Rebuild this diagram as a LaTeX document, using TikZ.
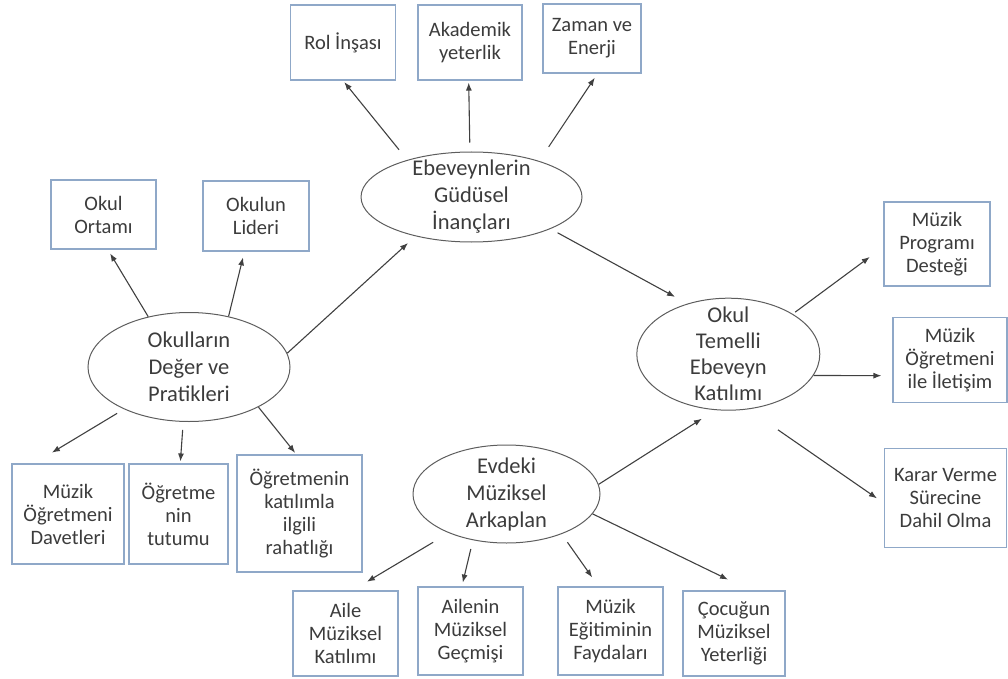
\documentclass[tikz,border=0pt]{standalone}
\usepackage{fontspec}
\setmainfont{Carlito}
\usepackage{tikz}
\usetikzlibrary{shapes.geometric,arrows.meta}
\definecolor{boxblue}{HTML}{8FA8C8}
\definecolor{txtgray}{HTML}{3C3C3C}
\definecolor{linegray}{HTML}{404040}

\begin{document}
\begin{tikzpicture}[x=1pt,y=-1pt,
    box/.style={draw=boxblue,line width=1.1pt,fill=white,text=txtgray,align=center,inner sep=0pt,font=\fontsize{20.5}{23}\selectfont},
    oval/.style={draw=linegray!85,ellipse,line width=1pt,inner sep=0pt},
    ovaltxt/.style={text=txtgray,align=center,inner sep=0pt,font=\fontsize{22.5}{27}\selectfont},
    arr/.style={draw=linegray,line width=1.1pt,-{Latex[length=8pt,width=6pt]}}]
    \useasboundingbox (0,0) rectangle (1008,679);

    \node[oval,minimum width=221pt,minimum height=90pt] (ebev) at (471.5,197) {};
    \node[ovaltxt] (ebevtxt) at (ebev) {Ebeveynlerin\\Güdüsel\\İnançları};
    \node[oval,minimum width=202pt,minimum height=109pt] (okul) at (189,367) {};
    \node[ovaltxt] (okultxt) at (okul) {Okulların\\Değer ve\\Pratikleri};
    \node[oval,minimum width=187pt,minimum height=98pt] (evdeki) at (506.5,494) {};
    \node[ovaltxt] (evdekitxt) at (evdeki) {Evdeki\\Müziksel\\Arkaplan};
    \node[oval,minimum width=183pt,minimum height=112pt] (temelli) at (728.3,354.2) {};
    \node[ovaltxt,font=\fontsize{22.5}{26}\selectfont] (temellitxt) at (temelli) {Okul\\Temelli\\Ebeveyn\\Katılımı};

    \node[box,minimum width=105pt,minimum height=75pt] (rol) at (343,42.5) {Rol İnşası};
    \node[box,minimum width=104pt,minimum height=75pt] (akad) at (470,42.5) {Akademik\\yeterlik};
    \node[box,minimum width=98pt,minimum height=69pt] (zaman) at (592,38.5) {Zaman ve\\Enerji};
    \node[box,minimum width=105pt,minimum height=69pt] (ortam) at (103.5,214.5) {Okul\\Ortamı};
    \node[box,minimum width=106pt,minimum height=70pt] (lider) at (256,216) {Okulun\\Lideri};
    \node[box,minimum width=112pt,minimum height=100pt] (davet) at (68,514) {Müzik\\Öğretmeni\\Davetleri};
    \node[box,minimum width=99pt,minimum height=100pt] (tutum) at (178.5,514) {Öğretme\\nin\\tutumu};
    \node[box,minimum width=125pt,minimum height=117pt] (rahat) at (299.5,513.5) {Öğretmenin\\katılımla\\ilgili\\rahatlığı};
    \node[box,minimum width=105pt,minimum height=85pt] (aile) at (345.5,633.5) {Aile\\Müziksel\\Katılımı};
    \node[box,minimum width=105pt,minimum height=88pt] (gecmis) at (470.5,631) {Ailenin\\Müziksel\\Geçmişi};
    \node[box,minimum width=105pt,minimum height=88pt] (fayda) at (610.5,631) {Müzik\\Eğitiminin\\Faydaları};
    \node[box,minimum width=102pt,minimum height=85pt] (yeter) at (734,633.5) {Çocuğun\\Müziksel\\Yeterliği};
    \node[box,minimum width=106pt,minimum height=84pt] (destek) at (937,244) {Müzik\\Programı\\Desteği};
    \node[box,minimum width=114pt,minimum height=85pt] (iletisim) at (950,360.3) {Müzik\\Öğretmeni\\ile İletişim};
    \node[box,minimum width=122pt,minimum height=99pt] (karar) at (945.5,497.8) {Karar Verme\\Sürecine\\Dahil Olma};

    \draw[arr,shorten <=13pt,shorten >=2pt] (ebev.150) -- (rol.south);
    \draw[arr,shorten <=9pt,shorten >=2pt] (ebev.92) -- (akad.-92);
    \draw[arr,shorten <=17pt,shorten >=5pt] (ebev.28) -- (zaman.-81);
    \draw[arr,shorten <=8pt,shorten >=14pt] (ebev.-22) -- (temelli.129);

    \draw[arr,shorten >=10pt] (okul.8) -- (ebev.215);
    \draw[arr,shorten >=4.5pt] (okul.129) -- (ortam.-83);
    \draw[arr,shorten >=6pt] (okul.52) -- (lider.-108);
    \draw[arr,shorten <=8pt,shorten >=21pt] (okul.213) -- (davet.124);
    \draw[arr,shorten <=8pt,shorten >=2pt] (okul.-96) -- (tutum.88);
    \draw[arr,shorten >=2pt] (okul.-30) -- (rahat.93);

    \draw[arr,shorten >=16pt] (evdeki.6) -- (temelli.-103);
    \draw[arr,shorten <=18pt,shorten >=17pt] (evdeki.214) -- (aile.81);
    \draw[arr,shorten <=9pt,shorten >=4pt] (evdeki.-126) -- (gecmis.101);
    \draw[arr,shorten <=10pt,shorten >=11pt] (evdeki.-36) -- (fayda.105);
    \draw[arr,shorten >=25pt] (evdeki.-13) -- (yeter.69);

    \draw[arr,shorten <=3pt,shorten >=17pt] (temelli.32) -- (destek.183);
    \draw[arr,shorten >=11pt] (temelli.-14.5) -- (iletisim.195.4);
    \draw[arr,shorten <=36pt,shorten >=8.5pt] (temelli.-70) -- (karar.185);
\end{tikzpicture}
\end{document}
